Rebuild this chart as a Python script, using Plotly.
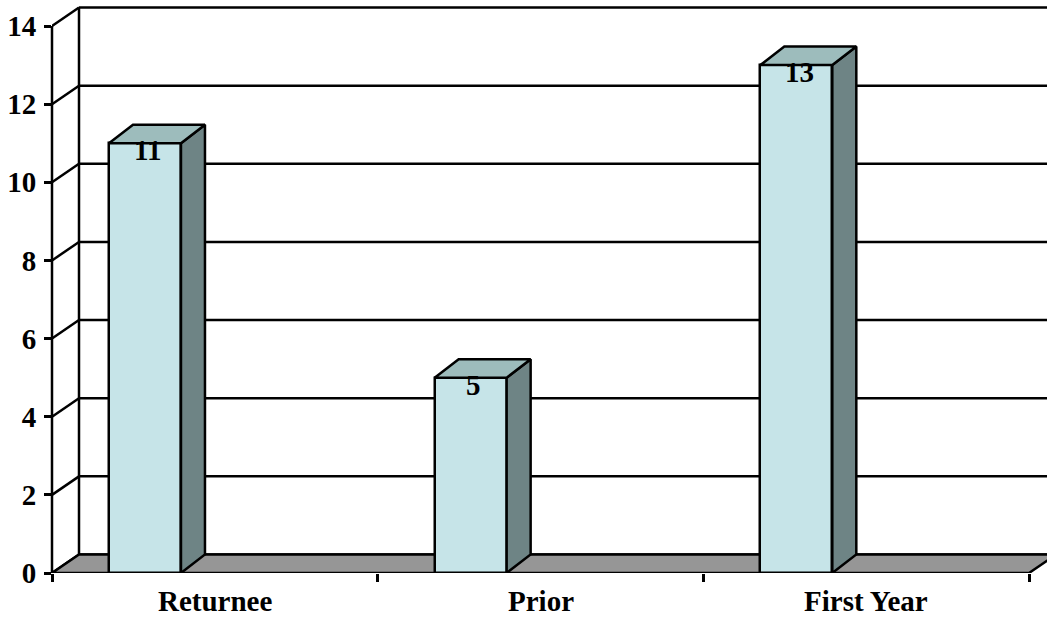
import plotly.graph_objects as go

categories = ["Returnee", "Prior", "First Year"]
values = [11, 5, 13]
y_ticks = [0, 2, 4, 6, 8, 10, 12, 14]

# style / geometry constants
W, H = 1047, 618
ML, MB = 52, 45
PX_PER_CAT = 325.67
PX_PER_UNIT = 39.07
WALL_DX = 27 / PX_PER_CAT
DEPTH_DY = 18.5 / PX_PER_UNIT
BAR_DX = 24 / PX_PER_CAT
BAR_OFF = 0.175
BAR_W = 0.221
FONT = "Liberation Serif"
FS = 29
LW = 2.5
FRONT = "#C6E4E8"
TOP = "#9DBCBC"
SIDE = "#6E8485"
FLOOR = "#969696"

n = len(categories)
xmax = (W - ML) / PX_PER_CAT
ymax = (H - MB) / PX_PER_UNIT
ytop = max(y_ticks)

shapes = []
line = dict(color="black", width=LW)
# back wall gridlines and left wall diagonals
for v in y_ticks:
    shapes.append(dict(type="line", xref="x", yref="y", x0=WALL_DX, x1=n + WALL_DX + 1,
                       y0=v + DEPTH_DY, y1=v + DEPTH_DY, line=line, layer="below"))
    shapes.append(dict(type="line", xref="x", yref="y", x0=0, x1=WALL_DX,
                       y0=v, y1=v + DEPTH_DY, line=line, layer="below"))
# back wall left edge
shapes.append(dict(type="line", xref="x", yref="y", x0=WALL_DX, x1=WALL_DX,
                   y0=DEPTH_DY, y1=ytop + DEPTH_DY, line=line, layer="below"))
# floor
shapes.append(dict(type="path", xref="x", yref="y",
                   path=f"M 0 0 L {n} 0 L {n + WALL_DX} {DEPTH_DY} L {WALL_DX} {DEPTH_DY} Z",
                   fillcolor=FLOOR, line=line, layer="below"))
# front y axis line
shapes.append(dict(type="line", xref="paper", yref="y", x0=0, x1=0, y0=0, y1=ytop,
                   line=line, layer="above"))

fig = go.Figure()

centers = [i + BAR_OFF + BAR_W / 2 for i in range(n)]
fig.add_trace(go.Bar(x=centers, y=values, width=BAR_W, base=0,
                     marker=dict(color=FRONT, line=dict(color="black", width=LW)),
                     hoverinfo="skip", showlegend=False))

for i, v in enumerate(values):
    x0 = i + BAR_OFF
    x1 = x0 + BAR_W
    # side face
    fig.add_trace(go.Scatter(
        x=[x1, x1 + BAR_DX, x1 + BAR_DX, x1, x1],
        y=[0, DEPTH_DY, v + DEPTH_DY, v, 0],
        fill="toself", fillcolor=SIDE, mode="lines",
        line=dict(color="black", width=LW), hoverinfo="skip", showlegend=False))
    # top face
    fig.add_trace(go.Scatter(
        x=[x0, x1, x1 + BAR_DX, x0 + BAR_DX, x0],
        y=[v, v, v + DEPTH_DY, v + DEPTH_DY, v],
        fill="toself", fillcolor=TOP, mode="lines",
        line=dict(color="black", width=LW), hoverinfo="skip", showlegend=False))

annotations = []
for i, v in enumerate(values):
    annotations.append(dict(x=centers[i], y=v, xref="x", yref="y", text=str(v),
                            showarrow=False, yanchor="middle", yshift=-7, xshift=3,
                            font=dict(family=FONT, size=FS, color="black", weight="bold")))
for i, c in enumerate(categories):
    annotations.append(dict(x=i + 0.5, y=0, xref="x", yref="y", text=c,
                            showarrow=False, yanchor="top", yshift=-10,
                            font=dict(family=FONT, size=FS, color="black", weight="bold")))

fig.update_layout(
    width=W, height=H,
    margin=dict(l=ML, r=0, t=0, b=MB, pad=0),
    paper_bgcolor="white", plot_bgcolor="white",
    shapes=shapes, annotations=annotations,
    showlegend=False, bargap=0,
    xaxis=dict(range=[0, xmax], tickvals=list(range(n + 1)), ticktext=[""] * (n + 1),
               ticks="outside", ticklen=8, tickwidth=LW, tickcolor="black",
               showgrid=False, zeroline=False, showline=False, fixedrange=True),
    yaxis=dict(range=[0, ymax], tickvals=y_ticks, ticktext=[str(t) for t in y_ticks],
               ticks="outside", ticklen=7, tickwidth=LW, tickcolor="black",
               ticklabelstandoff=2,
               tickfont=dict(family=FONT, size=FS, color="black", weight="bold"),
               showgrid=False, zeroline=False, showline=False, fixedrange=True),
)

fig.write_html("out.html", config={"displayModeBar": False},
               post_script="document.body.style.margin='0';document.body.style.overflow='hidden';")
